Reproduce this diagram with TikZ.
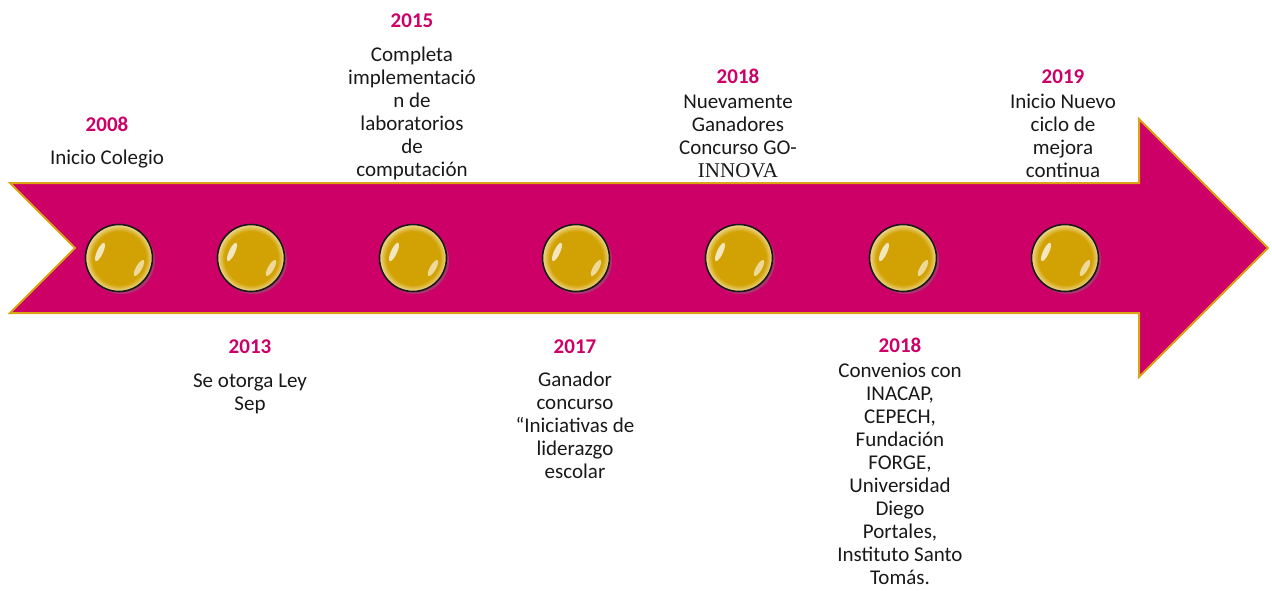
\documentclass[tikz,border=0pt]{standalone}
\usepackage{fontspec}
\setmainfont{Carlito}
\newfontfamily\timesfont{Liberation Serif}
\usepackage{tikz}
\usetikzlibrary{shadows}
\definecolor{arrowpink}{HTML}{CC0066}
\definecolor{yearpink}{HTML}{CC0066}
\definecolor{rimgold}{HTML}{D9A514}
\definecolor{balldark}{HTML}{D2A204}
\definecolor{ballrim}{HTML}{F4E6B0}
\pgfdeclareradialshading{goldball}{\pgfpoint{0bp}{0bp}}{color(0bp)=(balldark); color(20bp)=(balldark); color(26bp)=(ballrim); color(50bp)=(ballrim)}
\tikzset{
	year/.style={font=\bfseries\fontsize{21}{23}\selectfont, text=yearpink, anchor=base, inner sep=0pt},
	txt/.style={font=\fontsize{21}{23}\selectfont, align=center, anchor=base, inner sep=0pt, text=black!90},
	ball/.style={circle, minimum size=67pt, draw=black!90, line width=1.6pt, shade, shading=goldball,
		drop shadow={shadow xshift=2.5pt, shadow yshift=-2.5pt, opacity=.4},
		path picture={
			\fill[white, opacity=.75] ([shift={(-19,-6)}]path picture bounding box.center) circle [x radius=3, y radius=10, rotate=-25];
			\fill[white, opacity=.6] ([shift={(20,10)}]path picture bounding box.center) circle [x radius=3, y radius=9, rotate=-30];
		}}
}
\begin{document}
\begin{tikzpicture}[x=1pt, y=-1pt]
			\useasboundingbox (0,0) rectangle (1272,590);
			
			\draw[fill=arrowpink, draw=rimgold, line width=2pt, line join=miter]
				(10,183) -- (1139,183) -- (1139,119) -- (1268,248) -- (1139,377) -- (1139,313) -- (10,313) -- (75,248) -- cycle;
			
			\node[ball] (b1) at (119,258) {};
			\node[ball] (b2) at (251,258) {};
			\node[ball] (b3) at (413,258) {};
			\node[ball] (b4) at (576,258) {};
			\node[ball] (b5) at (739,258) {};
			\node[ball] (b6) at (903,258) {};
			\node[ball] (b7) at (1065,258) {};
			
			\node[year] (y2008) at (107,131) {2008};
			\node[txt] (t2008) at (107,164) {Inicio Colegio};
			
			\node[year] (y2013) at (250,353) {2013};
			\node[txt] (t2013) at (250,410) {Se otorga Ley\\Sep};
			
			\node[year] (y2015) at (412,27) {2015};
			\node[txt] (t2015) at (412,176) {Completa\\implementació\\n de\\laboratorios\\de\\computación};
			
			\node[year] (y2017) at (575,353) {2017};
			\node[txt] (t2017) at (575,478) {Ganador\\concurso\\“Iniciativas de\\liderazgo\\escolar};
			
			\node[year] (y2018a) at (738,83) {2018};
			\node[txt] (t2018a) at (738,177) {Nuevamente\\Ganadores\\Concurso GO-\\{\timesfont INNOVA}};
			
			\node[year] (y2018b) at (900,352) {2018};
			\node[txt] (t2018b) at (900,584) {Convenios con\\INACAP,\\CEPECH,\\Fundación\\FORGE,\\Universidad\\Diego\\Portales,\\Instituto Santo\\Tomás.};
			
			\node[year] (y2019) at (1063,83) {2019};
			\node[txt] (t2019) at (1063,177) {Inicio Nuevo\\ciclo de\\mejora\\continua};
		\end{tikzpicture}
\end{document}
